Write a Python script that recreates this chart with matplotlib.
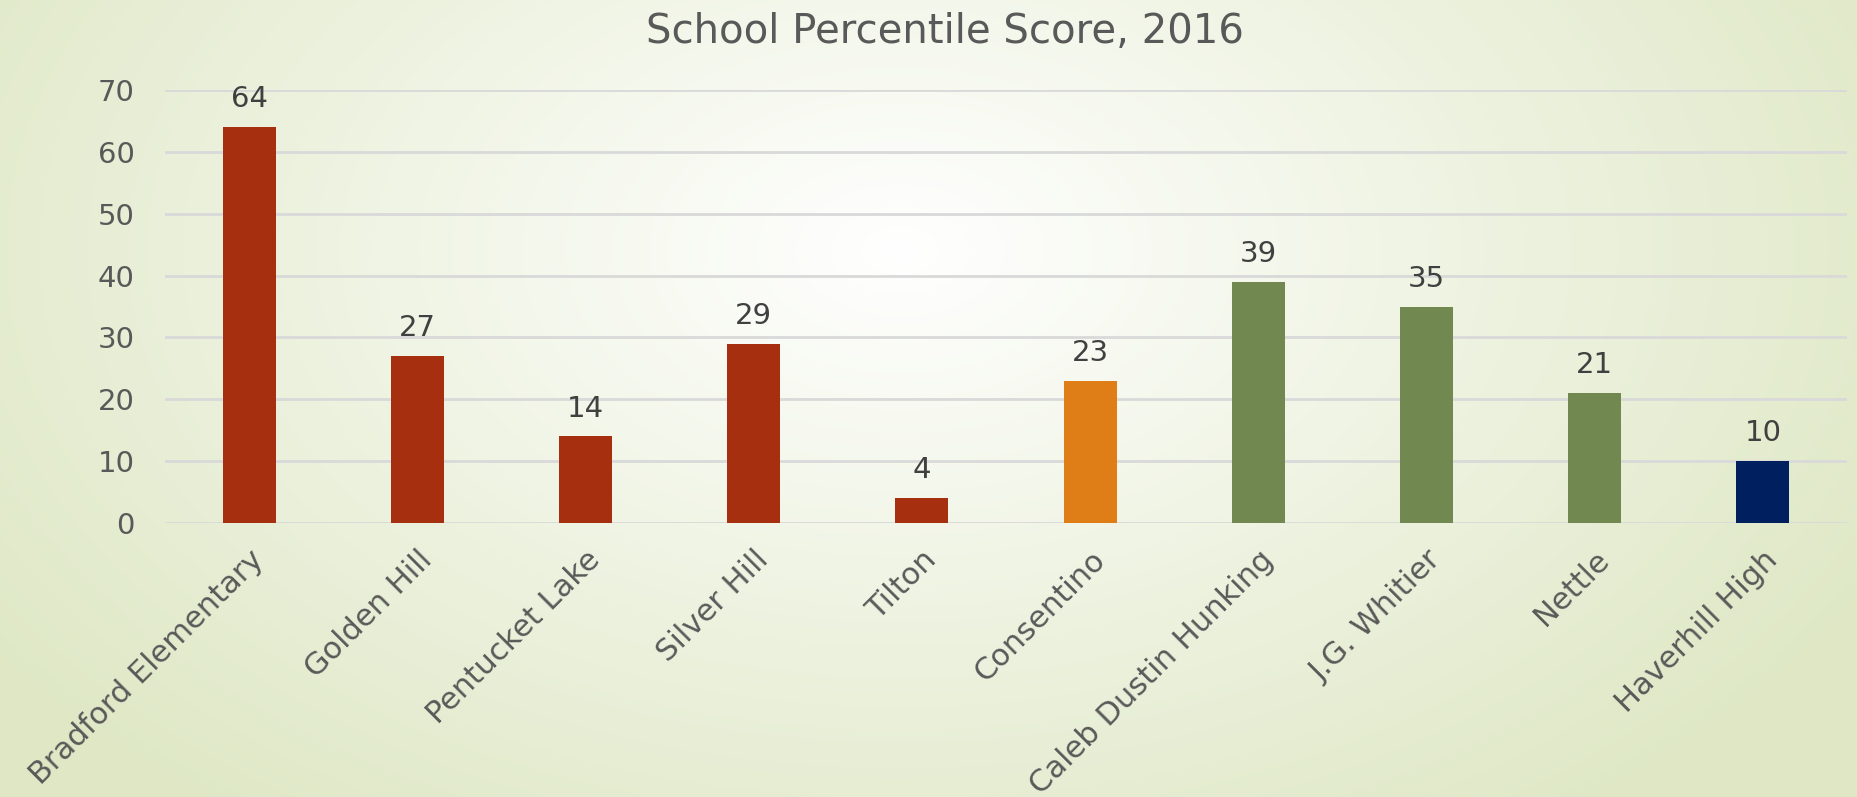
import numpy as np
import matplotlib.pyplot as plt

schools = ["Bradford Elementary", "Golden Hill", "Pentucket Lake", "Silver Hill",
           "Tilton", "Consentino", "Caleb Dustin Hunking", "J.G. Whitier",
           "Nettle", "Haverhill High"]
scores = [64, 27, 14, 29, 4, 23, 39, 35, 21, 10]
bar_colors = ["#A52F0F", "#A52F0F", "#A52F0F", "#A52F0F", "#A52F0F",
              "#DF7E17", "#718950", "#718950", "#718950", "#001F5E"]
yticks = [0, 10, 20, 30, 40, 50, 60, 70]

TEXT = "#595959"
plt.rcParams['font.family'] = ['DejaVu Sans']

W, H = 1857, 797
fig = plt.figure(figsize=(W / 100, H / 100), dpi=100)

# radial background: white-ish center, pale green edges
bg = fig.add_axes([0, 0, 1, 1])
yy, xx = np.mgrid[0:H, 0:W]
d = np.sqrt(((xx - 900) / 1100.0) ** 2 + ((yy - 250) / 700.0) ** 2)
d = np.clip(d, 0, 1)
c0 = np.array([1.0, 1.0, 1.0])
c1 = np.array([0xDF, 0xE8, 0xC6]) / 255.0
img = c0[None, None, :] * (1 - d[..., None]) + c1[None, None, :] * d[..., None]
bg.imshow(img, aspect='auto', extent=[0, 1, 0, 1])
bg.axis('off')

ax = fig.add_axes([165 / W, 1 - 523 / H, (1847 - 165) / W, (523 - 90) / H])
ax.patch.set_alpha(0)
x = np.arange(len(schools))
ax.bar(x, scores, width=0.315, color=bar_colors, zorder=3)
ax.set_xlim(-0.5, len(schools) - 0.5)
ax.set_ylim(0, 70)
ax.set_yticks(yticks)
ax.yaxis.grid(True, color="#D9D9D9", linewidth=2, zorder=0)
for s in ax.spines.values():
    s.set_visible(False)
ax.tick_params(axis='y', length=0, labelsize=21, colors=TEXT, pad=22)
ax.set_xticks(x)
ax.set_xticklabels(schools, rotation=45, ha='right', rotation_mode='anchor')
ax.tick_params(axis='x', length=0, labelsize=22, colors=TEXT, pad=16)

for xi, v in zip(x, scores):
    ax.annotate(str(v), (xi, v), xytext=(0, 10), textcoords='offset points',
                ha='center', va='bottom', fontsize=21, color="#404040")

fig.text(945 / W, 1 - 32 / H, "School Percentile Score, 2016", ha='center',
         va='center', fontsize=29, color=TEXT)

fig.savefig("out.png", dpi=100)
